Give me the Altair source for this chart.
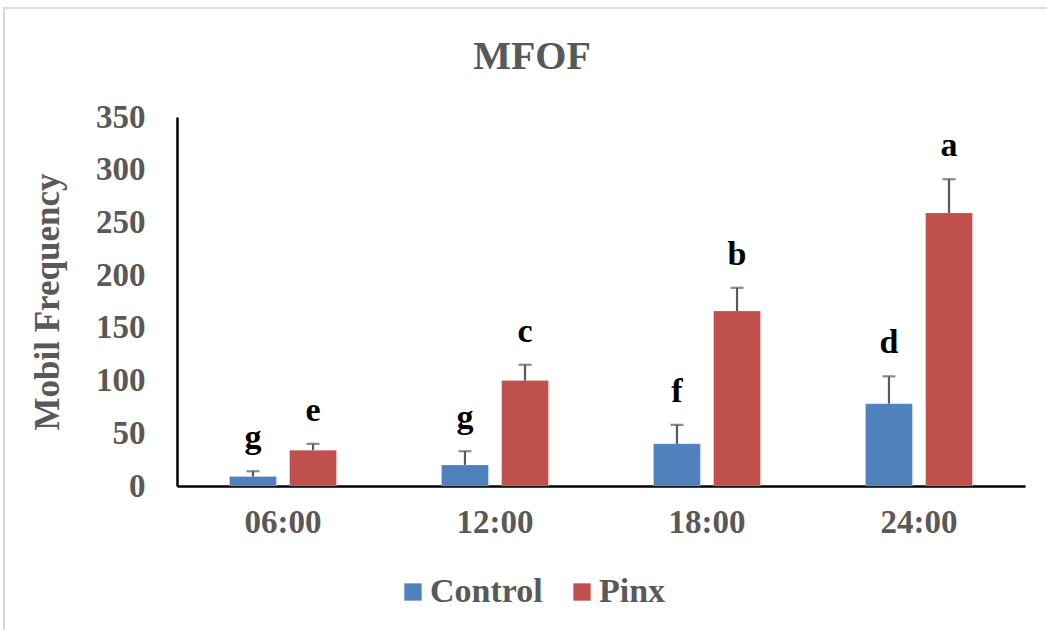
import altair as alt
import pandas as pd

title_text = "MFOF"
times = ["06:00", "12:00", "18:00", "24:00"]
groups = ["Control", "Pinx"]
control = [9, 20, 40, 78]
control_err = [5, 13, 18, 26]
pinx = [34, 100, 166, 259]
pinx_err = [6, 15, 22, 32]
control_letters = ["g", "g", "f", "d"]
pinx_letters = ["e", "c", "b", "a"]
y_ticks = [0, 50, 100, 150, 200, 250, 300, 350]

rows = []
for i, t in enumerate(times):
    rows.append({"time": t, "group": "Control", "value": control[i],
                 "top": control[i] + control_err[i], "letter": control_letters[i]})
    rows.append({"time": t, "group": "Pinx", "value": pinx[i],
                 "top": pinx[i] + pinx_err[i], "letter": pinx_letters[i]})
df = pd.DataFrame(rows)

FONT = "Liberation Serif"
GREY = "#595959"

x_enc = alt.X("time:N", sort=times, title=None,
              scale=alt.Scale(paddingInner=0, paddingOuter=0),
              axis=alt.Axis(labelFont=FONT, labelFontSize=33, labelFontWeight="bold",
                            labelColor=GREY, labelPadding=20, ticks=False,
                            domainColor="black", domainWidth=2.5, labelAngle=0))
xo = alt.XOffset("group:N", sort=groups,
                 scale=alt.Scale(paddingInner=0.22, paddingOuter=0.875))
y_scale = alt.Scale(domain=[0, 350])

base = alt.Chart(df)

bars = base.mark_bar(stroke="white", strokeWidth=0.5, strokeOpacity=0.4).encode(
    x=x_enc,
    xOffset=xo,
    y=alt.Y("value:Q", scale=y_scale, title="Mobil Frequency",
            axis=alt.Axis(values=y_ticks, grid=False, ticks=False,
                          labelFont=FONT, labelFontSize=33, labelFontWeight="bold",
                          labelColor=GREY, labelPadding=32,
                          titleFont=FONT, titleFontSize=35, titleFontWeight="bold",
                          titleColor=GREY, titlePadding=30,
                          domainColor="black", domainWidth=2.5)),
    color=alt.Color("group:N", sort=groups,
                    scale=alt.Scale(domain=groups, range=["#4F81BD", "#C0504D"]),
                    legend=alt.Legend(title=None, orient="none", direction="horizontal",
                                      legendX=219, legendY=458,
                                      symbolType="square", symbolSize=300,
                                      symbolStrokeWidth=0,
                                      labelFont=FONT, labelFontSize=34,
                                      labelFontWeight="bold", labelColor=GREY,
                                      labelOffset=0, columnPadding=22)),
)

err = base.mark_rule(color=GREY, strokeWidth=2.2).encode(
    x=alt.X("time:N", sort=times), xOffset=xo,
    y=alt.Y("value:Q", scale=y_scale), y2="top:Q",
)
caps = base.mark_tick(color=GREY, thickness=2.2, size=13, orient="horizontal").encode(
    x=alt.X("time:N", sort=times), xOffset=xo,
    y=alt.Y("top:Q", scale=y_scale),
)
letters = base.mark_text(font=FONT, fontSize=34, fontWeight="bold", color="black",
                         dy=-23, baseline="alphabetic").encode(
    x=alt.X("time:N", sort=times), xOffset=xo,
    y=alt.Y("top:Q", scale=y_scale),
    text="letter:N",
)

frame = alt.Chart(alt.Data(values=[{}])).mark_rect(
    fill=None, stroke="#d9d9d9", strokeWidth=2).encode(
    x=alt.value(-173), x2=alt.value(900), y=alt.value(-109), y2=alt.value(540))

title_mark = alt.Chart(alt.Data(values=[{"t": title_text}])).mark_text(
    font=FONT, fontSize=40, fontWeight="bold", color=GREY,
    align="center", baseline="alphabetic").encode(
    x=alt.value(355), y=alt.value(-48), text="t:N")

chart = alt.layer(frame, bars, err, caps, letters, title_mark).properties(
    width=848, height=369,
    padding={"left": 177, "top": 117, "right": 22, "bottom": 144},
    autosize=alt.AutoSizeParams(type="none"),
).configure_view(stroke=None)

chart.save("out.html", embed_options={"renderer": "svg", "actions": False})
